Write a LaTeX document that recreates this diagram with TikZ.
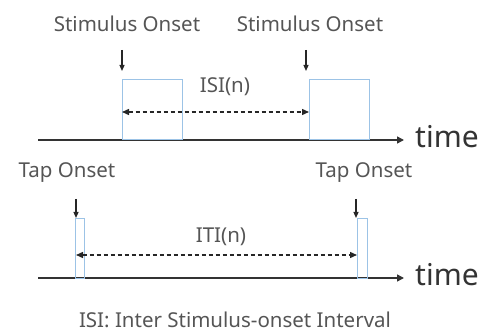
\documentclass[tikz,border=0pt]{standalone}
\usepackage{fontspec}
\setmainfont{Noto Sans}
\usetikzlibrary{arrows.meta}
\definecolor{boxblue}{HTML}{9CC3E6}
\definecolor{txtgray}{HTML}{555555}
\tikzset{
  lbl/.style={text=txtgray, font=\fontsize{20.5}{24}\selectfont, inner sep=0pt},
  timelbl/.style={text=black!80, font=\fontsize{30}{34}\selectfont, inner sep=0pt, anchor=west},
  axis/.style={draw=black!80, line width=1.4pt, -{Triangle[length=7pt,width=7pt]}},
  pulse/.style={draw=boxblue, line width=1pt},
  onset/.style={draw=black!85, line width=1.2pt, -{Triangle[length=6pt,width=5pt]}},
  interval/.style={draw=black!85, line width=1.4pt, dash pattern=on 4pt off 3pt, {Triangle[length=7pt,width=6pt]}-{Triangle[length=7pt,width=6pt]}}
}
\begin{document}
\begin{tikzpicture}[x=1pt,y=-1pt]
\useasboundingbox (0,0) rectangle (485,334);
% top
\coordinate (a1s) at (38,140);
\coordinate (a1e) at (404,140);
\draw[axis] (a1s) -- (a1e);
\node[timelbl] (t1) at (415,137) {time};
\draw[pulse] (122,140) rectangle (182,80);
\draw[pulse] (309,140) rectangle (369,80);
\node[lbl] (s1) at (127,24) {Stimulus Onset};
\node[lbl] (s2) at (310,24) {Stimulus Onset};
\coordinate (d1a) at (122,50); \coordinate (d1b) at (122,71);
\coordinate (d2a) at (306,50); \coordinate (d2b) at (306,71);
\draw[onset] (d1a) -- (d1b);
\draw[onset] (d2a) -- (d2b);
\node[lbl] (isi) at (225,87) {ISI(n)};
\coordinate (i1) at (122,112); \coordinate (i2) at (309,112);
\draw[interval] (i1) -- (i2);
% bottom
\coordinate (a2s) at (38,278);
\coordinate (a2e) at (404,278);
\draw[axis] (a2s) -- (a2e);
\node[timelbl] (t2) at (415,275) {time};
\draw[pulse] (75,278) rectangle (84,219);
\draw[pulse] (357,278) rectangle (367,219);
\node[lbl] (tp1) at (67,173) {Tap Onset};
\node[lbl] (tp2) at (364,173) {Tap Onset};
\coordinate (e1a) at (76,199); \coordinate (e1b) at (76,218);
\coordinate (e2a) at (356,199); \coordinate (e2b) at (356,218);
\draw[onset] (e1a) -- (e1b);
\draw[onset] (e2a) -- (e2b);
\node[lbl] (iti) at (221,237) {ITI(n)};
\coordinate (j1) at (76,255); \coordinate (j2) at (357,255);
\draw[interval] (j1) -- (j2);
\node[lbl] (foot) at (235,320) {ISI: Inter Stimulus-onset Interval};
\end{tikzpicture}
\end{document}
